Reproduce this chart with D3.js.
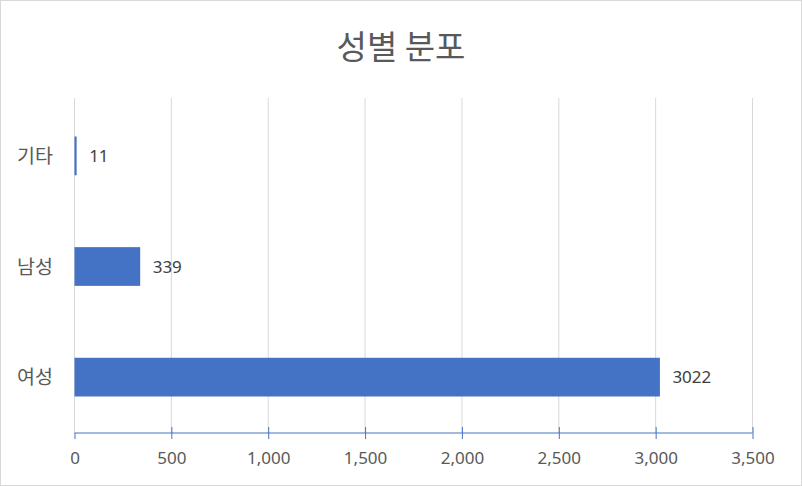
<!DOCTYPE html>
<html><head><meta charset="utf-8">
<script src="https://cdn.jsdelivr.net/npm/d3@7"></script>
<style>html,body{margin:0;padding:0;background:#fff;}</style>
</head><body>
<svg id="c" width="802" height="486"></svg>
<script>
const title = "성별 분포";
const categories = ["기타", "남성", "여성"];
const values = [11, 339, 3022];
const tickValues = [0, 500, 1000, 1500, 2000, 2500, 3000, 3500];

(function(){
const svg = d3.select("#c");
const W = 802, H = 486;
const font = "'Noto Sans CJK KR', 'Noto Sans', sans-serif";
const numFont = "'Noto Sans', 'Open Sans', sans-serif";
svg.append("rect").attr("x",0.5).attr("y",0.5).attr("width",W-1).attr("height",H-1)
  .attr("fill","#fff").attr("stroke","#d9d9d9");

const mLeft = 74, mRight = 752, mTop = 100, mBottom = 433;
const x = d3.scaleLinear().domain([0, 3500]).range([mLeft, mRight]);
const y = d3.scaleBand().domain(categories).range([mTop, mBottom]).paddingInner(0.65).paddingOuter(0.33);

svg.append("text").attr("x", 401).attr("y", 47).attr("dy","0.36em").attr("text-anchor","middle")
  .attr("font-family", font).attr("font-size", 33).attr("fill","#595959").text(title);

// gridlines
svg.append("g").selectAll("line").data(tickValues).join("line")
  .attr("x1", d=>x(d)+0.5).attr("x2", d=>x(d)+0.5).attr("y1", 98).attr("y2", mBottom)
  .attr("stroke","#d9d9d9").attr("stroke-width",1);

// bars
svg.append("g").selectAll("rect").data(values).join("rect")
  .attr("x", x(0)+0.5).attr("y", (d,i)=>y(categories[i]))
  .attr("width", d=>x(d)-x(0)).attr("height", y.bandwidth())
  .attr("fill","#4472c4");

// value labels
svg.append("g").selectAll("text").data(values).join("text")
  .attr("x", d=>x(d)+13).attr("y", (d,i)=>y(categories[i])+y.bandwidth()/2)
  .attr("dy","0.36em").attr("font-family", numFont).attr("font-size", 17).attr("fill","#404040")
  .text(d=>d);

// category labels
svg.append("g").selectAll("text").data(categories).join("text")
  .attr("x", 53).attr("y", d=>y(d)+y.bandwidth()/2).attr("dy","0.36em")
  .attr("text-anchor","end").attr("font-family", font).attr("font-size", 19.5).attr("fill","#595959")
  .text(d=>d);

// x axis
const axis = d3.axisBottom(x).tickValues(tickValues).tickSize(6).tickPadding(13)
  .tickFormat(d3.format(","));
const gx = svg.append("g").attr("transform", `translate(0.5,${mBottom})`).call(axis);
gx.select(".domain").attr("stroke","#4472c4").attr("d", `M${mLeft},0H${mRight}`);
gx.selectAll(".tick line").attr("stroke","#4472c4").attr("y1", d=>d===0?0:-6).attr("y2",6);
gx.selectAll(".tick text").attr("font-family", numFont).attr("font-size", 17).attr("fill","#595959");
})();
</script>
</body></html>
